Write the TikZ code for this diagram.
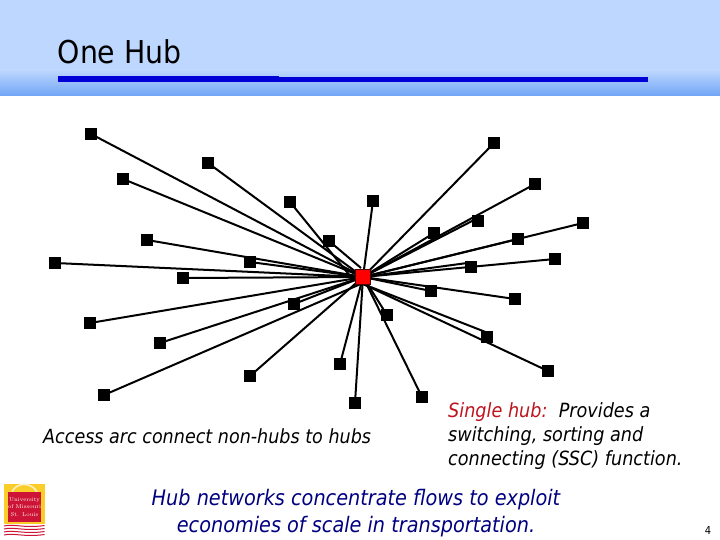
\documentclass[tikz,border=0pt]{standalone}
\usepackage{fontspec}
\usetikzlibrary{backgrounds}
\newfontfamily\tah[FakeStretch=0.9]{DejaVu Sans}
\definecolor{headblue}{RGB}{190,215,255}
\definecolor{headlow}{RGB}{112,164,245}
\definecolor{rulecol}{RGB}{0,0,215}
\definecolor{logored}{RGB}{205,20,55}
\definecolor{logoyel}{RGB}{250,205,40}
\definecolor{hubred}{RGB}{190,20,30}
\definecolor{flownavy}{RGB}{0,0,128}
\tikzset{
  x=1pt,y=-1pt,
  spoke/.style={inner sep=0pt,minimum size=12pt,fill=black,draw=none,rectangle},
  hubnode/.style={inner sep=0pt,minimum size=15pt,fill=red,draw=black!70!red,line width=.6pt,rectangle},
  link/.style={line width=2pt,black},
  caption/.style={inner sep=0pt,font=\tah\itshape,text=black},
}
\begin{document}
\begin{tikzpicture}
\useasboundingbox (0,0) rectangle (720,540);
\begin{scope}[on background layer]
\fill[white] (0,0) rectangle (720,540);
\end{scope}
\fill[headblue] (0,0) rectangle (720,70.5);
\shade[top color=headblue,bottom color=headlow] (0,70) rectangle (720,96);
\fill[rulecol] (58,76) rectangle (279,82);
\fill[rulecol] (279,77) rectangle (648,82);
\node[anchor=base west,inner sep=0pt,font=\tah\fontsize{31.5}{36}\selectfont] (title) at (57.5,64) {One Hub};
\node[hubnode] (hub) at (363,277) {};
\foreach \n/\x/\y in {a/91/134,b/208/163,c/123/179,d/290/202,e/373/201,f/329/241,g/147/240,h/55/263,i/250/262,j/183/278,k/294/304,l/90/323,m/160/343,n/250/376,o/340/364,p/104/395,q/355/403,r/422/397,s/387/315,t/431/291,u/487/337,v/515/299,w/548/371,x/471/267,y/555/259,z/518/239,aa/583/223,ab/478/221,ac/434/233,ad/535/184,ae/494/143}{
  \node[spoke] (\n) at (\x,\y) {};
}
\begin{scope}[on background layer]
\foreach \n/\hx/\hy/\nx/\ny in {a/0/0/0/0,b/0/0/0/0,c/0/0/0/0,d/-12/0/0/0,e/0/0/0/0,f/-2/-9/0/0,g/0/0/0/0,h/0/0/0/0,i/0/0/0/0,j/0/0/0/0,k/0/0/0/0,l/0/0/0/0,m/0/0/0/0,n/0/0/0/0,o/0/0/0/0,p/0/6/0/0,q/0/0/0/0,r/0/0/0/0,s/0/0/0/0,t/0/0/0/0,u/0/7/0/-4.4,v/0/0/0/0,w/0/7/0/0,x/0/0/0/-4.5,y/0/0/0/0,z/0/0/0/0,aa/0/0/0/0,ab/0/0/0/-3,ac/0/0/0/0,ad/0/0/0/0,ae/0/0/0/0}{
  \draw[link] ([shift={(\hx,\hy)}]hub.center) -- ([shift={(\nx,\ny)}]\n.center);
}
\end{scope}
\node[caption,anchor=base west,font=\tah\itshape\fontsize{19.5}{24}\selectfont] (access) at (43,443) {Access arc connect non-hubs to hubs};
\node[caption,anchor=north west,align=left,font=\tah\itshape\fontsize{19.6}{24}\selectfont] (single) at (448,402) {\textcolor{hubred}{Single hub:}\ \ Provides a\\switching, sorting and\\connecting (SSC) function.};
\node[caption,anchor=center,align=center,text=flownavy,font=\tah\itshape\fontsize{21.4}{27}\selectfont] (flows) at (356,513) {Hub networks concentrate flows to exploit\\economies of scale in transportation.};
\node[anchor=base,inner sep=0pt,font=\tah\fontsize{11}{13}\selectfont] (pageno) at (708,534) {4};
% logo
\fill[logoyel] (4,483.5) rectangle (44.5,528);
\draw[white!70!logoyel,line width=1.6pt] (12,492) .. controls (16,482) and (32,482) .. (37,492);
\fill[logored] (7.5,492) rectangle (41,522);
\node[inner sep=0pt,align=center,text=white!92!logoyel,font=\fontfamily{lmr}\fontsize{5.6}{7.4}\selectfont] (logotext) at (24.5,507) {University\\of Missouri\\St. Louis};
\fill[white] (4,524) rectangle (44.5,536);
\foreach \yy in {526,529,532,535}{
  \draw[logored,line width=1pt] (4,\yy) .. controls (14,\yy-2.5) and (24,\yy+2.5) .. (44.5,\yy-.5);
}
\end{tikzpicture}
\end{document}
